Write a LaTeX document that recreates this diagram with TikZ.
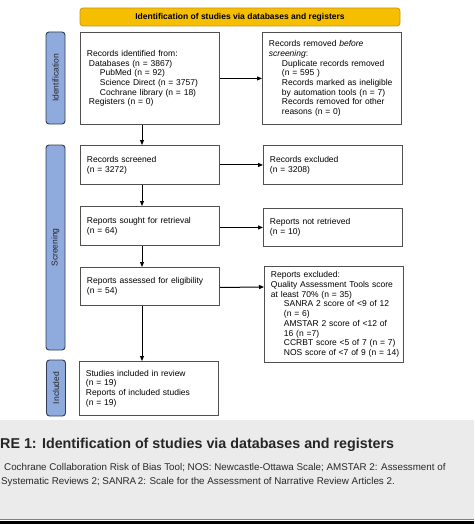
\documentclass[tikz,border=0pt]{standalone}
\usepackage{fontspec}
\setmainfont{Liberation Sans}
\usetikzlibrary{arrows.meta}
\definecolor{boxgray}{RGB}{80,80,80}
\definecolor{headfill}{RGB}{245,190,0}
\definecolor{headdraw}{RGB}{200,150,20}
\definecolor{sidefill}{RGB}{143,170,220}
\definecolor{sidedraw}{RGB}{50,60,85}
\definecolor{capbg}{RGB}{235,235,235}
\definecolor{captext}{RGB}{40,40,40}
\begin{document}
\begin{tikzpicture}[x=1pt,y=-1pt,
  box/.style={draw=boxgray, line width=0.9pt, fill=white, rectangle, inner xsep=6.5pt, inner ysep=0pt,
    align=left, font=\fontsize{8.5}{9.7}\selectfont, anchor=north west, text width=126pt},
  sidebar/.style={draw=sidedraw, line width=0.9pt, fill=sidefill, rounded corners=3pt, rotate=90,
    minimum height=19pt, inner sep=0pt, font=\fontsize{8.5}{10}\selectfont, text=black!85},
  capline/.style={anchor=base west, inner sep=0pt, font=\fontsize{9.8}{12}\selectfont, text=captext},
  arr/.style={line width=1pt, -{Triangle[length=5pt,width=4pt]}}]
\useasboundingbox (0,0) rectangle (474,524);
\fill[white] (0,0) rectangle (474,524);
% caption area
\fill[capbg] (0,420) rectangle (474,519);
\draw[gray, line width=0.6pt] (0,519) -- (474,519);
\fill[black] (0,520.5) rectangle (474,524);
% header
\node[draw=headdraw, line width=0.8pt, fill=headfill, rounded corners=3pt, minimum width=320pt, minimum height=18pt,
  inner sep=0pt, font=\bfseries\fontsize{8.5}{10}\selectfont] (head) at (240,17) {Identification of studies via databases and registers};
% side bars
\node[sidebar, minimum width=92pt] (sideid) at (55.5,78) {Identification};
\node[sidebar, minimum width=205pt] (sidescr) at (55.5,247.5) {Screening};
\node[sidebar, minimum width=56pt] (sideinc) at (56,388) {Included};
% boxes
\node[box, minimum height=92pt] (ident) at (80,32) {Records identified from:\\
\hspace*{2pt}Databases (n = 3867)\\
\hspace*{13pt}PubMed (n = 92)\\
\hspace*{13pt}Science Direct (n = 3757)\\
\hspace*{13pt}Cochrane library (n = 18)\\
\hspace*{2pt}Registers (n = 0)};
\node[box, minimum height=92pt] (removed) at (262,32) {Records removed \textit{before}\\
\textit{screening}:\\
\hspace*{13pt}Duplicate records removed\\
\hspace*{13pt}(n = 595 )\\
\hspace*{13pt}Records marked as ineligible\\
\hspace*{13pt}by automation tools (n = 7)\\
\hspace*{13pt}Records removed for other\\
\hspace*{13pt}reasons (n = 0)};
\node[box, minimum height=39pt] (screened) at (80,145) {Records screened\\(n = 3272)};
\node[box, minimum height=39pt] (excluded) at (263,145) {Records excluded\\(n = 3208)};
\node[box, minimum height=39pt] (sought) at (80,206) {Reports sought for retrieval\\(n = 64)};
\node[box, minimum height=38pt] (notret) at (263,208) {Reports not retrieved\\(n = 10)};
\node[box, minimum height=38pt] (assessed) at (80,267) {Reports assessed for eligibility\\(n = 54)};
\node[box, minimum height=96pt] (repexcl) at (264,266) {Reports excluded:\\
\mbox{Quality Assessment Tools score}\\
at least 70\% (n = 35)\\
\hspace*{13pt}SANRA 2 score of <9 of 12\\
\hspace*{13pt}(n = 6)\\
\hspace*{13pt}AMSTAR 2 score of <12 of\\
\hspace*{13pt}16 (n =7)\\
\hspace*{13pt}\mbox{CCRBT score <5 of 7 (n = 7)}\\
\hspace*{13pt}\mbox{NOS score of <7 of 9 (n = 14)}};
\node[box, minimum height=54pt] (included) at (79,361) {Studies included in review\\
(n = 19)\\
Reports of included studies\\
(n = 19)};
% arrows
\coordinate (ax) at (142,0);
\draw[arr] (ident.east) -- (ident.east -| removed.west);
\draw[arr] (screened.east) -- (screened.east -| excluded.west);
\draw[arr] (sought.east |- notret.east) -- (notret.west);
\draw[arr] (assessed.east) ++(0,1) -- (repexcl.west |- 0,287);
\draw[arr] (ident.south -| ax) -- (screened.north -| ax);
\draw[arr] (screened.south -| ax) -- (sought.north -| ax);
\draw[arr] (sought.south -| ax) -- (assessed.north -| ax);
\draw[arr] (assessed.south -| ax) -- (included.north -| ax);
% caption
\node[anchor=base west, inner sep=0pt, font=\bfseries\fontsize{14.3}{16}\selectfont, text=black!85] (captitle) at (0,448)
  {RE 1: Identification of studies via databases and registers};
\node[capline] (capnote1) at (4,470.5)
  {Cochrane Collaboration Risk of Bias Tool; NOS: Newcastle-Ottawa Scale; AMSTAR 2: Assessment of};
\node[capline] (capnote2) at (1,484)
  {Systematic Reviews 2; SANRA\,2: Scale for the Assessment of Narrative Review Articles 2.};
\end{tikzpicture}
\end{document}
